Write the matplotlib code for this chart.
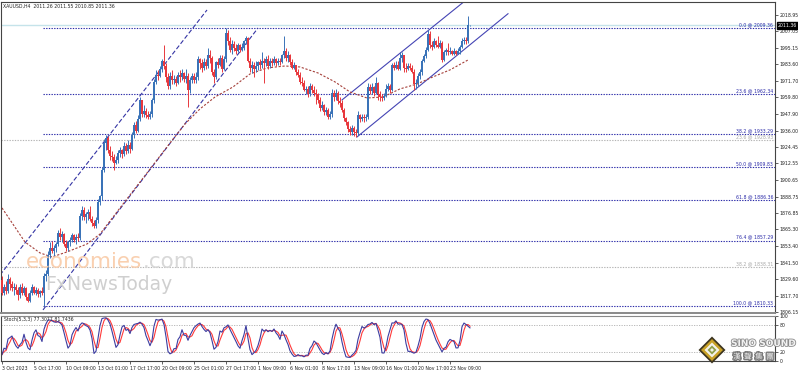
import numpy as np
import pandas as pd
import matplotlib.pyplot as plt
import matplotlib.transforms as mtransforms
import matplotlib.patheffects as pe
from matplotlib.patches import Polygon

W, H = 798, 372

# XAUUSD H4 candles (bar 0 = 3 Oct 2023 01:00)
first_open = 1829
closes = [
    1820, 1824, 1821, 1830, 1826, 1823, 1824, 1822, 1818, 1824,
    1820, 1823, 1817, 1814, 1820, 1824, 1820, 1822, 1819, 1821,
    1820, 1832, 1833, 1847, 1852, 1850, 1852, 1855, 1863, 1860,
    1862, 1855, 1852, 1856, 1858, 1861, 1858, 1860, 1859, 1875,
    1879, 1874, 1876, 1878, 1873, 1870, 1868, 1872, 1885, 1889,
    1908, 1927, 1931, 1922, 1918, 1917, 1913, 1915, 1920, 1922,
    1919, 1925, 1921, 1926, 1923, 1933, 1940, 1936, 1944, 1958,
    1948, 1950, 1947, 1946, 1948, 1958, 1971, 1976, 1975, 1980,
    1986, 1982, 1974, 1968, 1975, 1972, 1973, 1970, 1976, 1974,
    1977, 1973, 1975, 1965, 1972, 1975, 1972, 1974, 1987, 1984,
    1981, 1985, 1982, 1990, 1988, 1978, 1974, 1985, 1983, 1988,
    1980, 1987, 2006, 2000, 1994, 1998, 1995, 1993, 1997, 1994,
    1996, 2000, 2002, 1986, 1981, 1983, 1980, 1982, 1985, 1983,
    1986, 1984, 1987, 1982, 1986, 1984, 1987, 1984, 1986, 1985,
    1990, 1993, 1988, 1990, 1985, 1981, 1983, 1978, 1976, 1971,
    1970, 1965, 1966, 1962, 1968, 1965, 1963, 1962, 1958, 1952,
    1954, 1949, 1951, 1946, 1948, 1963, 1960, 1963, 1957, 1956,
    1951, 1945, 1942, 1937, 1935, 1938, 1935, 1934, 1947, 1944,
    1946, 1945, 1946, 1967, 1964, 1967, 1963, 1970, 1962, 1960,
    1959, 1961, 1966, 1968, 1965, 1983, 1981, 1983, 1980, 1988,
    1990, 1981, 1980, 1982, 1981, 1978, 1969, 1970, 1975, 1978,
    1986, 1989, 1994, 2005, 1997, 1996, 2000, 1997, 1996, 1999,
    1986.5, 1992, 1994, 1992, 1993, 1991, 1993, 1991, 1993, 1996,
    2000, 2001, 2000, 2011.26, 2011.36]
highs = [
    1832, 1826, 1828, 1833, 1831, 1828, 1827, 1826, 1824, 1826,
    1827, 1825, 1824, 1820, 1822, 1826, 1825, 1824, 1823, 1822,
    1824, 1834, 1836, 1850, 1856, 1857, 1854, 1856, 1865, 1866,
    1864, 1863, 1858, 1857, 1860, 1863, 1862, 1862, 1863, 1877,
    1882, 1881, 1878, 1880, 1882, 1875, 1872, 1874, 1887, 1890,
    1910, 1930, 1933, 1932, 1925, 1921, 1919, 1918, 1922, 1924,
    1923, 1928, 1927, 1929, 1928, 1935, 1942, 1943, 1947, 1960,
    1958, 1954, 1952, 1950, 1950, 1959, 1973, 1979, 1979, 1982,
    1987, 1997, 1984, 1977, 1978, 1979, 1976, 1975, 1978, 1979,
    1980, 1978, 1980, 1977, 1974, 1977, 1977, 1978, 1989, 1988,
    1987, 1988, 1987, 1995, 1994, 1989, 1980, 1986, 1988, 1990,
    1990, 1989, 2009.4, 2008, 2003, 2001, 2000, 1998, 1999, 1998,
    1999, 2001, 2003.5, 2003, 1988, 1986, 1985, 1986, 1986, 1987,
    1992, 1988, 1989, 1990, 1988, 1988, 1989, 1988, 1988, 1988,
    1991, 2003.5, 1995, 1993, 1991, 1987, 1985, 1983, 1980, 1978,
    1974, 1972, 1968, 1968, 1970, 1969, 1968, 1966, 1963, 1960,
    1957, 1955, 1953, 1952, 1950, 1966, 1965, 1966, 1964, 1960,
    1958, 1952, 1946, 1943, 1939, 1940, 1939, 1937, 1950, 1948,
    1948, 1948, 1948, 1970, 1969, 1970, 1968, 1974, 1971, 1964,
    1962, 1963, 1969, 1970, 1969, 1984, 1985, 1986, 1986, 1992,
    1992, 1990, 1984, 1984, 1984, 1983, 1980, 1973, 1977, 1980,
    1987, 1991, 1996, 2008, 2007, 2000, 2002, 2001, 2004, 2001,
    2000, 1994, 1995, 1999, 1996, 1994, 1995, 1994, 1995, 1997,
    2002, 2003, 2003, 2018, 2011.55]
lows = [
    1818, 1818, 1819, 1820, 1822, 1821, 1818, 1819, 1815, 1816,
    1818, 1818, 1815, 1813, 1813, 1818, 1819, 1818, 1817, 1817,
    1818, 1810.3, 1828, 1832, 1845, 1848, 1846, 1849, 1853, 1858,
    1856, 1853, 1850, 1850, 1853, 1856, 1856, 1855, 1857, 1858,
    1872, 1872, 1870, 1872, 1871, 1868, 1866, 1866, 1870, 1883,
    1886, 1906, 1922, 1920, 1915, 1914, 1908, 1912, 1913, 1917,
    1916, 1918, 1919, 1920, 1920, 1922, 1931, 1934, 1935, 1943,
    1946, 1946, 1945, 1944, 1944, 1946, 1956, 1969, 1972, 1974,
    1978, 1980, 1971, 1966, 1966, 1969, 1969, 1968, 1969, 1971,
    1972, 1971, 1970, 1953, 1963, 1970, 1970, 1970, 1972, 1980,
    1978, 1979, 1980, 1981, 1984, 1976, 1970, 1973, 1981, 1982,
    1978, 1979, 1985, 1997, 1992, 1991, 1993, 1991, 1992, 1992,
    1993, 1994, 1998, 1985, 1978, 1977, 1974, 1978, 1979, 1980,
    1981, 1970, 1982, 1980, 1981, 1982, 1983, 1982, 1983, 1983,
    1984, 1988, 1986, 1985, 1983, 1980, 1980, 1976, 1974, 1969,
    1968, 1964, 1962, 1960, 1961, 1963, 1961, 1955, 1956, 1950,
    1951, 1947, 1947, 1944, 1944, 1946, 1957, 1958, 1955, 1953,
    1949, 1943, 1940, 1935, 1933, 1933, 1932, 1931.4, 1933, 1942,
    1943, 1942, 1943, 1944, 1962, 1962, 1961, 1962, 1958, 1957,
    1957, 1958, 1960, 1964, 1963, 1964, 1979, 1980, 1979, 1979,
    1985, 1978, 1978, 1979, 1979, 1977, 1965, 1966, 1968, 1973,
    1976, 1985, 1988, 1993, 1995, 1994, 1995, 1996, 1995, 1995,
    1985, 1986, 1990, 1990, 1991, 1990, 1990, 1990, 1991, 1991,
    1995, 1998, 1998, 1999, 2010.85]

# moving average (brown dashed), read at a set of bars
ma_bars = [0, 11.5, 19, 25, 32.5, 42.5, 49, 60.5, 74, 84, 91.5, 99, 106.5,
           115.5, 124, 132.5, 141.5, 149, 158, 166.5, 174, 182.5, 190.5,
           199, 207.5, 215.5, 224, 233]
ma_vals = [1880.6, 1856.2, 1848.4, 1845.5, 1849.1, 1854.8, 1861.9, 1883.4,
           1908.4, 1927.1, 1940.7, 1951.5, 1960.0, 1967.2, 1976.5, 1980.8,
           1982.2, 1981.5, 1977.2, 1970.8, 1963.6, 1959.3, 1960.0, 1965.8,
           1969.3, 1974.4, 1979.4, 1986.5]

fib_levels = [2009.36, 1962.34, 1933.29, 1909.83, 1886.36, 1857.29, 1810.33]
fib_names = ["0.0", "23.6", "38.2", "50.0", "61.8", "76.4", "100.0"]
fib2_levels = [1928.93, 1838.31]
fib2_names = ["23.6", "38.2"]

# trend channels: (bar, price) end points
left_channel = [((-1, 1832.6), (102.5, 2022.3)), ((20.5, 1807.6), (128, 2009.4))]
right_channel = [((170, 1957.9), (231.5, 2028.8)), ((177.5, 1931.4), (253, 2019.6))]

price_ticks = [2018.95, 2007.05, 1995.15, 1983.60, 1971.70, 1959.80, 1947.90,
               1936.00, 1924.45, 1912.55, 1900.65, 1888.75, 1876.85, 1865.30,
               1853.40, 1841.50, 1829.60, 1817.70, 1806.15]
date_labels = ["3 Oct 2023", "5 Oct 17:00", "10 Oct 09:00", "13 Oct 01:00",
               "17 Oct 17:00", "20 Oct 09:00", "25 Oct 01:00", "27 Oct 17:00",
               "1 Nov 09:00", "6 Nov 01:00", "8 Nov 17:00", "13 Nov 09:00",
               "16 Nov 01:00", "20 Nov 17:00", "23 Nov 09:00"]
last_price = 2011.36
stoch_text = "Stoch(5,3,3) 77.3077 81.7436"

BULL = '#3a73b8'
BEAR = '#e8383d'
FIB = '#2a2aa8'
SMALL = 3.3


def frect(x0, y0, x1, y1):
    return [x0 / W, 1 - y1 / H, (x1 - x0) / W, (y1 - y0) / H]


def main():
    plt.rcParams['font.family'] = ['DejaVu Sans']
    fig = plt.figure(figsize=(W / 100, H / 100), dpi=100)
    ax = fig.add_axes(frect(1, 2, 775, 313))
    axs = fig.add_axes(frect(1, 316, 775, 361))

    c = np.array(closes, dtype=float)
    o = np.concatenate([[first_open], c[:-1]])
    hi = np.maximum(np.array(highs, dtype=float), np.maximum(o, c))
    lo = np.minimum(np.array(lows, dtype=float), np.minimum(o, c))
    x = np.arange(len(c))
    up = c >= o
    cols = np.where(up, BULL, BEAR)

    ax.vlines(x, lo, hi, colors=cols, lw=0.7, zorder=3)
    body = np.maximum(np.abs(c - o), 0.4)
    ax.bar(x, body, bottom=np.minimum(o, c), width=0.6, color=cols, lw=0, zorder=3)

    # bid line
    ax.axhline(last_price, color='#c5e3ea', lw=1.0, zorder=1)

    # fibonacci levels
    for lvl, name in zip(fib_levels, fib_names):
        ax.hlines(lvl, 20.5, 386.5, colors=FIB, lw=0.8, linestyles=(0, (1.2, 1.2)), zorder=2)
        ax.text(385.5, lvl + 0.5, f"{name} @ {lvl:.2f}", ha='right', va='bottom',
                fontsize=SMALL, color=FIB, zorder=4)
    for lvl, name in zip(fib2_levels, fib2_names):
        ax.hlines(lvl, -0.5, 386.5, colors='#b5b5b5', lw=0.8, linestyles=(0, (1.2, 1.2)), zorder=2)
        ax.text(385.5, lvl + 0.5, f"{name} @ {lvl:.2f}", ha='right', va='bottom',
                fontsize=SMALL, color='#a8a8a8', zorder=4)

    for (x0, y0), (x1, y1) in left_channel:
        ax.plot([x0, x1], [y0, y1], color='#3434a4', lw=0.8, dashes=(4, 2), zorder=2)
    for (x0, y0), (x1, y1) in right_channel:
        ax.plot([x0, x1], [y0, y1], color='#4444b4', lw=0.8, zorder=2)

    ax.plot(ma_bars, ma_vals, color='#a5403a', lw=0.8, dashes=(2, 1.5), zorder=2)

    ax.set_xlim(-0.5, 386.5)
    ax.set_ylim(1805.4, 2028.0)
    ax.set_xticks([])
    ax.yaxis.tick_right()
    ax.set_yticks(price_ticks)
    ax.set_yticklabels([f"{t:.2f}" for t in price_ticks])
    ax.tick_params(axis='y', labelsize=SMALL, length=2, width=0.5, pad=1.5, colors='#222222')
    for s in ['left', 'top', 'right']:
        ax.spines[s].set_color('#444444')
        ax.spines[s].set_linewidth(0.8)
    ax.spines['bottom'].set_color('#8a8a8a')
    ax.spines['bottom'].set_linewidth(1.4)

    trans = mtransforms.blended_transform_factory(ax.transAxes, ax.transData)
    ax.text(1.004, last_price, f"{last_price:.2f}", transform=trans, ha='left', va='center',
            fontsize=SMALL, color='white', zorder=6,
            bbox=dict(boxstyle='square,pad=0.25', fc='black', ec='black'))

    ax.text(0.003, 0.995, "XAUUSD,H4  2011.26 2011.55 2010.85 2011.36", transform=ax.transAxes,
            ha='left', va='top', fontsize=SMALL, color='#222222')

    # stochastic 5,3,3 from the candles
    hh = pd.Series(hi).rolling(5, min_periods=1).max()
    ll = pd.Series(lo).rolling(5, min_periods=1).min()
    num = (pd.Series(c) - ll).rolling(3, min_periods=1).sum()
    den = (hh - ll).rolling(3, min_periods=1).sum()
    k_line = 100 * num / den
    d_line = k_line.rolling(3, min_periods=1).mean()
    axs.axhline(80, color='#b0b0b0', lw=0.6, ls=(0, (1.5, 1.5)))
    axs.axhline(20, color='#b0b0b0', lw=0.6, ls=(0, (1.5, 1.5)))
    axs.plot(x, d_line, color='#ff3a3a', lw=0.8)
    axs.plot(x, k_line, color='#3c3ca0', lw=0.8)
    axs.set_xlim(-0.5, 386.5)
    axs.set_ylim(0, 100)
    axs.yaxis.tick_right()
    axs.set_yticks([100, 80, 20, 0])
    axs.tick_params(axis='y', labelsize=SMALL, length=2, width=0.5, pad=1.5, colors='#222222')
    axs.set_xticks([16 * i for i in range(len(date_labels))])
    axs.set_xticklabels(date_labels, ha='left')
    axs.tick_params(axis='x', labelsize=SMALL, length=2, width=0.5, pad=1.5, colors='#222222')
    for s in ['left', 'bottom', 'right']:
        axs.spines[s].set_color('#444444')
        axs.spines[s].set_linewidth(0.8)
    axs.spines['top'].set_color('#8a8a8a')
    axs.spines['top'].set_linewidth(0.8)
    axs.text(0.004, 0.97, stoch_text, transform=axs.transAxes,
             ha='left', va='top', fontsize=SMALL, color='#222222')

    # watermarks
    fig.text(26 / W, 1 - 268 / H, "economies", fontsize=15.5, color='#f9cba8',
             ha='left', va='baseline', alpha=0.9)
    fig.text(143 / W, 1 - 268 / H, ".com", fontsize=15.5, color='#d4d4d4',
             ha='left', va='baseline', alpha=0.9)
    fig.text(45 / W, 1 - 290 / H, "FxNewsToday", fontsize=13.5, color='#cfcfcf',
             ha='left', va='baseline')

    # logo
    cx, cy = 712, 350
    for r, col in [(13.5, '#3d3520'), (11, '#c9a227'), (7.5, '#f4f2ea'), (4.5, '#8fa048'), (2, '#f4f2ea')]:
        pts = [((cx) / W, 1 - (cy - r) / H), ((cx + r) / W, 1 - cy / H),
               (cx / W, 1 - (cy + r) / H), ((cx - r) / W, 1 - cy / H)]
        fig.add_artist(Polygon(pts, closed=True, transform=fig.transFigure, fc=col, ec='none', zorder=10))
    stroke = [pe.withStroke(linewidth=1.2, foreground='#8c8c8c')]
    fig.text(731 / W, 1 - 346 / H, "SINO SOUND", fontsize=6.5, fontweight='bold', color='#f2f2f2',
             ha='left', va='baseline', path_effects=stroke, zorder=11)
    fig.text(733 / W, 1 - 359 / H, "漢  聲  集  團", fontsize=5.5, color='#f4f4f4',
             family=['Noto Sans CJK TC', 'DejaVu Sans'], ha='left', va='baseline',
             path_effects=[pe.withStroke(linewidth=2.0, foreground='#7a7a7a')], zorder=11)

    fig.savefig('out.png', dpi=100)


if __name__ == "__main__":
    main()
